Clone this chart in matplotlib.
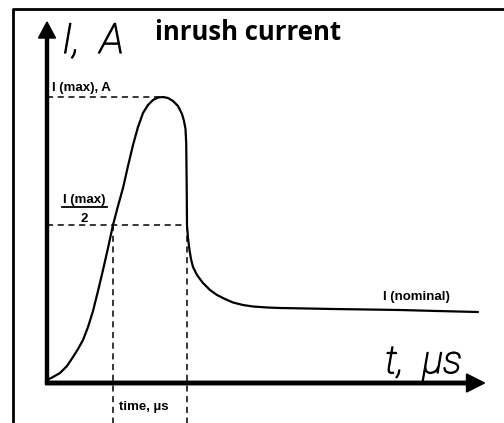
import matplotlib.pyplot as plt
import matplotlib.patheffects as pe
from matplotlib import font_manager

# inrush current curve (t and I in arbitrary units, origin at axis corner)
t = [0, 6, 13, 20, 26, 31, 36, 41, 46, 51, 56, 61, 66, 71, 76, 81, 86, 91, 96, 101,
     106, 111, 116, 121, 126, 131, 135, 137, 138.5, 139.2, 139.5, 139.8, 140,
     141, 142.5, 144, 146, 150, 156, 163, 170, 178, 186, 196, 206, 220, 233, 260,
     286, 320, 353, 390, 431]
i = [3, 6, 10, 17, 26, 34, 43, 56, 72, 92, 113, 135, 158, 177, 195, 217, 238, 256,
     270, 278, 283, 285.5, 286, 285, 282, 277, 269, 262, 254, 240, 215, 185, 158,
     145, 133, 124, 116, 108, 100, 93, 88, 84, 80.5, 78, 76.5, 75.5, 75, 74.5,
     74, 73.5, 73, 72, 71]

i_max = 286
i_half = 158
t_half = [66, 140]

fig = plt.figure(figsize=(5.04, 4.23), dpi=100)
ax = fig.add_axes([0, 0, 1, 1])
ax.set_xlim(-47, 457)
ax.set_ylim(-40, 383)
ax.axis('off')

names = {f.name for f in font_manager.fontManager.ttflist}
narrow = 'Liberation Sans Narrow' if 'Liberation Sans Narrow' in names else 'Liberation Sans'

# frame on the left and the top
ax.plot([-34, -34, 457], [-40, 374, 374], color='black', lw=2, solid_capstyle='butt')

# dashed guide lines
ax.plot([0, 116], [i_max, i_max], 'k--', lw=1.1, dashes=(4, 3))
ax.plot([0, t_half[1]], [i_half, i_half], 'k--', lw=1.1, dashes=(4, 3))
for th in t_half:
    ax.plot([th, th], [i_half, -40], 'k--', lw=1.1, dashes=(4, 3))

# axes arrows
ax.arrow(0, 0, 0, 361, width=3, head_width=17, head_length=16,
         length_includes_head=True, fc='black', ec='black')
ax.arrow(-1.5, 0, 439, 0, width=3.5, head_width=18, head_length=18,
         length_includes_head=True, fc='black', ec='black')

ax.plot(t, i, color='black', lw=1.6, solid_capstyle='round')

thick = [pe.withStroke(linewidth=0.9, foreground='black')]
ax.text(15, 330, 'I,  A', fontsize=30, style='italic', fontweight='light',
        family='Roboto', va='baseline', path_effects=thick)
ax.text(338, 10, 't,  µs', fontsize=28, style='italic', fontweight='light',
        family='Roboto', va='baseline', path_effects=thick)
ax.text(108, 343, 'inrush current', fontsize=18.5, fontweight='bold',
        family='Open Sans', va='baseline')
ax.text(5, 292, 'I (max), A', fontsize=9.5, fontweight='bold', family=narrow,
        va='baseline')
ax.text(37, 180, 'I (max)', fontsize=9.5, fontweight='bold', family=narrow,
        va='baseline', ha='center')
ax.plot([15, 60], [176, 176], color='black', lw=1.3)
ax.text(37, 161, '2', fontsize=9.5, fontweight='bold', family=narrow,
        va='baseline', ha='center')
ax.text(72, -27, 'time, µs', fontsize=9.5, fontweight='bold', family=narrow,
        va='baseline')
ax.text(336, 83, 'I (nominal)', fontsize=9.5, fontweight='bold', family=narrow,
        va='baseline')

fig.savefig('out.png', dpi=100)
